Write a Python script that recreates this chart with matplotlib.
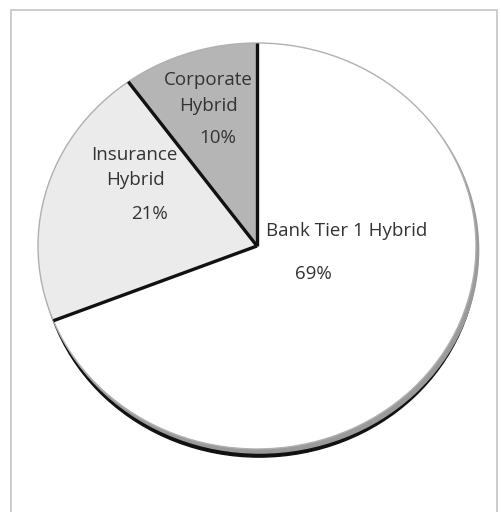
import matplotlib.pyplot as plt
from matplotlib.patches import Ellipse, Rectangle
import numpy as np

categories = ['Bank Tier 1 Hybrid', 'Insurance Hybrid', 'Corporate Hybrid']
shares = [69, 21, 10]
slice_colors = ['#ffffff', '#ebebeb', '#b5b5b5']

plt.rcParams['font.family'] = ['Open Sans', 'DejaVu Sans']

fig = plt.figure(figsize=(5.01, 5.12), dpi=100)
ax = fig.add_axes([0, 0, 1, 1])

# outer frame of the chart area
fig.patches.append(Rectangle((11 / 501, -0.05), 486 / 501, 1.05 - 10 / 512,
                             transform=fig.transFigure, fill=False,
                             edgecolor='#c4c4c4', lw=1.2))

# soft shadow under the pie
ax.add_patch(Ellipse((0.01, -0.04), 1.99, 2.0, color='#111111', zorder=0))
ax.add_patch(Ellipse((0.012, -0.02), 2.0, 2.0, color='#9a9a9a', zorder=0.5))

wedges, _ = ax.pie(shares, colors=slice_colors, startangle=90, counterclock=False,
                   wedgeprops=dict(edgecolor='none', zorder=1))

# outline of the pie
ax.add_patch(Ellipse((0, 0), 2.0, 2.0, fill=False, edgecolor='#b0b0b0', lw=1.0, zorder=2))

# black separators between slices
for w in wedges:
    t = np.deg2rad(w.theta1)
    ax.plot([0, np.cos(t)], [0, np.sin(t)], color='#111111', lw=2.4,
            solid_capstyle='butt', zorder=3)

ax.set_aspect('auto')
ax.set_xlim(-257 / 219, (501 - 257) / 219)
ax.set_ylim((246 - 512) / 203, 246 / 203)
ax.axis('off')

txt = dict(ha='center', va='center', color='#333333', fontsize=13.5,
           transform=fig.transFigure)
def px(x, y):
    return x / 501, 1 - y / 512

fig.text(*px(208, 80), 'Corporate', **txt)
fig.text(*px(208, 106), 'Hybrid', **txt)
fig.text(*px(218, 138), f'{shares[2]}%', **txt)
fig.text(*px(134, 155), 'Insurance', **txt)
fig.text(*px(135, 180), 'Hybrid', **txt)
fig.text(*px(149, 214), f'{shares[1]}%', **txt)
fig.text(*px(347, 231), categories[0], **txt)
fig.text(*px(313, 274), f'{shares[0]}%', **txt)

fig.savefig('out.png', dpi=100, facecolor='white')
